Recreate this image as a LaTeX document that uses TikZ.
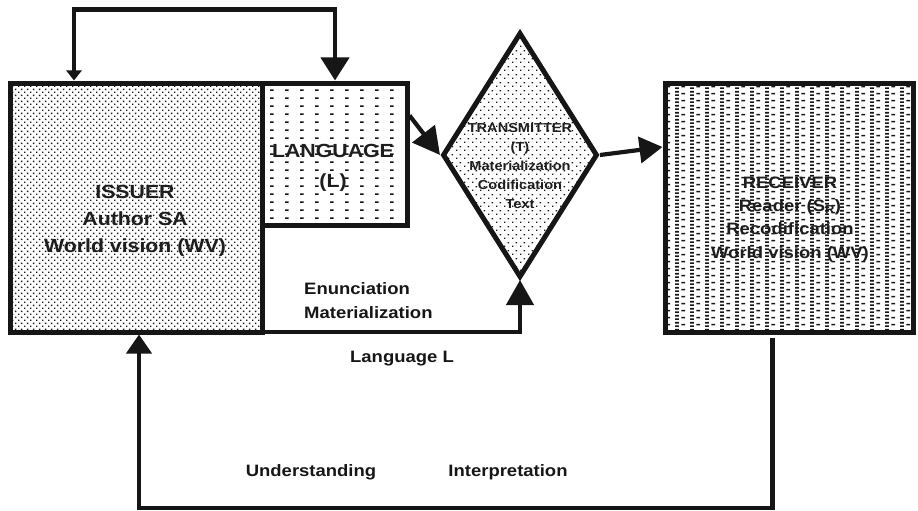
\documentclass[tikz,border=0pt]{standalone}
\usepackage{fontspec}
\setmainfont{Liberation Sans}[FakeStretch=1.12]
\usetikzlibrary{shapes.geometric,arrows.meta,patterns}

% fill textures
\pgfdeclarepatternformonly{issuerdots}{\pgfqpoint{0pt}{0pt}}{\pgfqpoint{6.4pt}{6.4pt}}{\pgfqpoint{6.4pt}{6.4pt}}{%
  \pgfpathrectangle{\pgfqpoint{0pt}{0pt}}{\pgfqpoint{1.5pt}{1.5pt}}%
  \pgfpathrectangle{\pgfqpoint{3.2pt}{3.2pt}}{\pgfqpoint{1.5pt}{1.5pt}}%
  \pgfusepath{fill}}
\pgfdeclarepatternformonly{langdash}{\pgfqpoint{0pt}{0pt}}{\pgfqpoint{15pt}{7.7pt}}{\pgfqpoint{15pt}{7.7pt}}{%
  \pgfpathrectangle{\pgfqpoint{0pt}{0pt}}{\pgfqpoint{3.8pt}{1.7pt}}%
  \pgfusepath{fill}}
\pgfdeclarepatternformonly{transdots}{\pgfqpoint{0pt}{0pt}}{\pgfqpoint{8pt}{8pt}}{\pgfqpoint{8pt}{8pt}}{%
  \pgfpathrectangle{\pgfqpoint{0pt}{0pt}}{\pgfqpoint{1.6pt}{1.6pt}}%
  \pgfpathrectangle{\pgfqpoint{4pt}{4pt}}{\pgfqpoint{1.6pt}{1.6pt}}%
  \pgfusepath{fill}}
\pgfdeclarepatternformonly{recvdash}{\pgfqpoint{0pt}{0pt}}{\pgfqpoint{15pt}{7.4pt}}{\pgfqpoint{15pt}{7.4pt}}{%
  \pgfpathrectangle{\pgfqpoint{0pt}{0pt}}{\pgfqpoint{4pt}{1.7pt}}%
  \pgfpathrectangle{\pgfqpoint{0pt}{3.7pt}}{\pgfqpoint{4pt}{1.7pt}}%
  \pgfpathrectangle{\pgfqpoint{6.7pt}{1.8pt}}{\pgfqpoint{4pt}{1.7pt}}%
  \pgfusepath{fill}}

\definecolor{ink}{HTML}{161616}
\definecolor{boxtext}{HTML}{1E1E1E}

\tikzset{
  block/.style={draw=ink, line width=5pt, rectangle, inner sep=0pt, pattern color=ink},
  conn/.style={draw=ink, line width=4.2pt, line join=miter},
  boxlabel/.style={align=center, text=boxtext, font=\bfseries},
  edgelabel/.style={text=ink, font=\bfseries\fontsize{16.5}{24}\selectfont, inner sep=0pt},
}

\begin{document}
\begin{tikzpicture}[x=1pt, y=-1pt]
\useasboundingbox (0,0) rectangle (918,511);

% boxes
\node[block, pattern=issuerdots, minimum width=252pt, minimum height=249pt] (issuer) at (136.5,207.5) {};
\node[block, pattern=langdash, minimum width=144.5pt, minimum height=142.5pt] (lang) at (334.75,154.25) {};
\node[block, pattern=recvdash, minimum width=248pt, minimum height=248.5pt] (rx) at (789,207.75) {};
\node[diamond, draw=ink, line width=5pt, line join=miter, inner sep=0pt, pattern=transdots, pattern color=ink,
      minimum width=155pt, minimum height=245pt] (tx) at (520,155) {};

% box texts
\node[boxlabel, font=\bfseries\fontsize{19}{27}\selectfont] (issuertext) at (135,221) {ISSUER\\Author SA\\World vision (WV)};
\node[boxlabel, font=\bfseries\fontsize{19}{30}\selectfont] (langtext) at (333,168) {LANGUAGE\\(L)};
\node[boxlabel, font=\bfseries\fontsize{13}{19}\selectfont] (txtext) at (520,166) {TRANSMITTER\\(T)\\Materialization\\Codification\\Text};
\node[boxlabel, font=\bfseries\fontsize{16.5}{23.3}\selectfont] (rxtext) at (790,219) {RECEIVER\\Reader (S\textsubscript{R})\\Recodification\\World vision (WV)};

% loop over the top
\coordinate (topL) at (74,9.5);
\coordinate (topR) at (335,9.5);
\draw[conn, {Triangle[length=10pt,width=15pt]}-{Triangle[length=23pt,width=28pt]}]
  (topL |- issuer.north) -- (topL) -- (topR) -- (topR |- lang.north);

% forward chain
\draw[conn, -{Triangle[length=27pt,width=28pt]}] ([yshift=-35pt]lang.north east) -- (tx.west);
\draw[conn, -{Triangle[length=23pt,width=26pt]}] (tx.east) -- ([yshift=60.75pt]rx.west);
\draw[conn, -{Triangle[length=25pt,width=27pt]}] ([shift={(-2.5pt,2.5pt)}]issuer.south east) -| (tx.south);

% feedback path
\coordinate (retR) at (772.5,508);
\coordinate (retL) at (139,508);
\draw[conn, shorten <=3pt, -{Triangle[length=19pt,width=25pt]}]
  (retR |- rx.south) -- (retR) -- (retL) -- (retL |- issuer.south);

% connector labels
\node[edgelabel, anchor=west, align=left] (enun) at (304,301) {Enunciation\\Materialization};
\node[edgelabel] (langL) at (402,359) {Language L};
\node[edgelabel] (under) at (311,472) {Understanding};
\node[edgelabel] (interp) at (508,472) {Interpretation};
\end{tikzpicture}
\end{document}
